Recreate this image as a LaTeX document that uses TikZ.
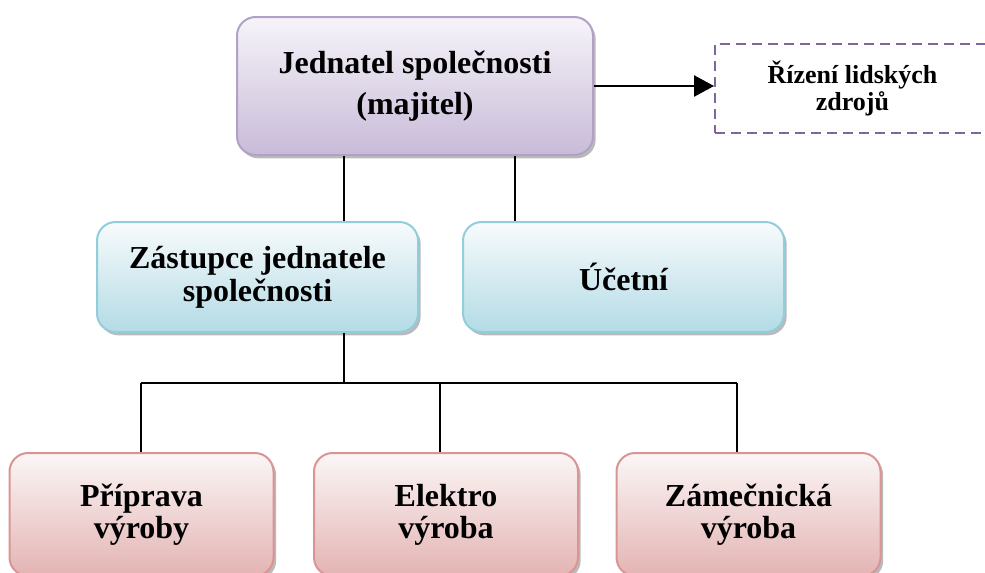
\documentclass[tikz,border=0pt]{standalone}
\usepackage{fontspec}
\setmainfont{Liberation Serif}
\usetikzlibrary{positioning,arrows.meta,shadows}
\definecolor{leadline}{HTML}{B2A1C7}
\definecolor{leadtop}{HTML}{F6F4F9}
\definecolor{leadbot}{HTML}{C8BBD8}
\definecolor{staffline}{HTML}{92CDDC}
\definecolor{stafftop}{HTML}{F8FBFC}
\definecolor{staffbot}{HTML}{B3DBE5}
\definecolor{unitline}{HTML}{D99594}
\definecolor{unittop}{HTML}{FBF6F6}
\definecolor{unitbot}{HTML}{E3B4B3}
\definecolor{hrline}{HTML}{8064A2}
\tikzset{O node/.style={rounded corners=14pt,line width=1.5pt,inner sep=0pt,align=center,drop shadow={shadow xshift=2pt,shadow yshift=-2.5pt,fill=black!45,opacity=.6}},
	lead node/.style={O node,draw=leadline,top color=leadtop,bottom color=leadbot,minimum width=267pt,minimum height=103.5pt,font=\fontsize{24}{30.75}\selectfont\bfseries},
	staff node/.style={O node,draw=staffline,top color=stafftop,bottom color=staffbot,minimum width=240.75pt,minimum height=82.5pt,font=\fontsize{24}{24.75}\selectfont\bfseries},
	unit node/.style={O node,draw=unitline,top color=unittop,bottom color=unitbot,minimum width=198pt,minimum height=92.25pt,font=\fontsize{24}{24}\selectfont\bfseries},
	hr node/.style={draw=hrline,line width=1.5pt,dash pattern=on 7.5pt off 4.5pt,fill=white,inner sep=0pt,align=center,minimum width=206.25pt,minimum height=66.75pt,font=\fontsize{19.5}{20.25}\selectfont\bfseries},}

\begin{document}
\begin{tikzpicture}[x=0.75pt,y=-0.75pt]
			\useasboundingbox (0,0) rectangle (985,572);
			\clip (0,0) rectangle (985,572);

			\node[lead node] (lead) at (415,86) {Jednatel společnosti\\(majitel)};
			\node[hr node] (hr) at (852.5,88.5) {Řízení lidských\\zdrojů};

			\node[staff node] (deputy) at (257.5,277) {Zástupce jednatele\\společnosti};
			\node[staff node] (acct) at (623.5,277) {Účetní};

			\node[unit node] (prep) at (141.5,514.5) {Příprava\\výroby};
			\node[unit node] (elec) at (446,514.5) {Elektro\\výroba};
			\node[unit node] (lock) at (748.5,514.5) {Zámečnická\\výroba};

			\coordinate (acc) at (515,221);
			\coordinate (bus) at (344,383);
			\coordinate (busL) at (141,383);
			\coordinate (busM) at (440,383);
			\coordinate (busR) at (737,383);

			\path[draw, line width=1pt]
				(lead.east) edge[-{Triangle[length=15pt,width=16pt]}] (lead.east -| hr.west)
				(lead.south -| bus) edge (deputy.north -| bus)
				(lead.south -| acc) edge (acc)
				(deputy.south -| bus) edge (bus)
				(busL) edge (busR)
				(busL) edge (prep.north -| busL)
				(busM) edge (elec.north -| busM)
				(busR) edge (lock.north -| busR);
		\end{tikzpicture}
\end{document}
